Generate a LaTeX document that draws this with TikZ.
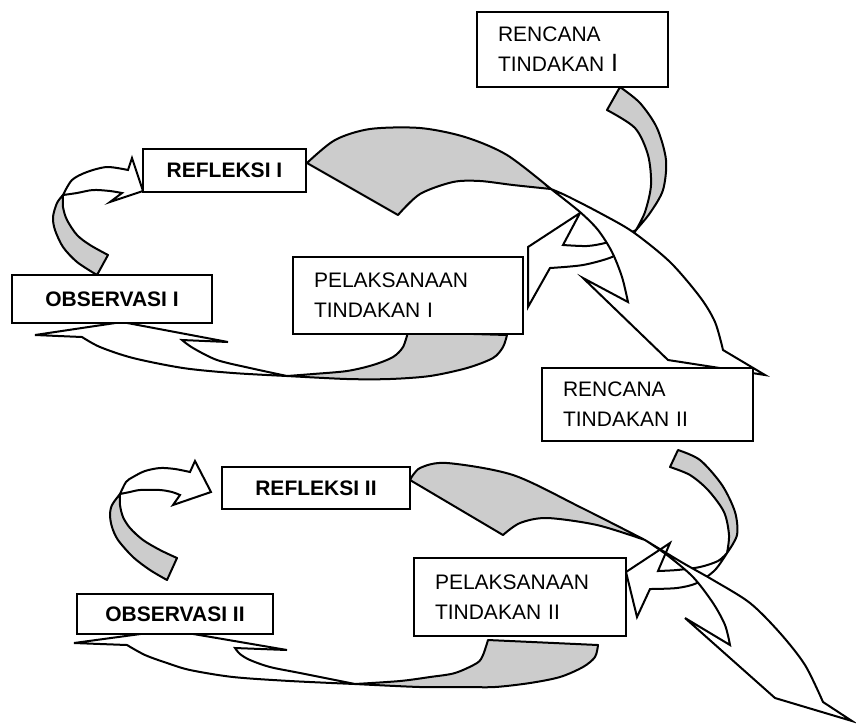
\documentclass[tikz,border=0pt]{standalone}
\usepackage{fontspec}
\setmainfont{Liberation Sans}
\usepackage{tikz}

\begin{document}
\begin{tikzpicture}[
  x=0.5pt,y=-0.5pt,
  plan/.style={draw=black, line width=1pt, fill=white, align=left, inner xsep=10.5pt, inner ysep=0pt, font=\fontsize{10.5}{15}\selectfont},
  stage/.style={draw=black, line width=1pt, fill=white, inner sep=0pt, font=\bfseries\fontsize{10.5}{13}\selectfont},
  back/.style={draw=black, line width=1pt, fill=black!20, line join=round},
  front/.style={draw=black, line width=1pt, fill=white, line join=miter}
]
  \useasboundingbox (0,0) rectangle (856,725);

  % cycle I
  \filldraw[back] (620,87) -- plot[smooth] coordinates {(620,87) (640,103) (657,128) (666,160) (663,190) (650,213) (636,230)}
    -- plot[smooth] coordinates {(636,230) (645,212) (651,185) (648,155) (635,128) (607,110)} -- cycle;
  \filldraw[front] (636,230) -- plot[smooth] coordinates {(636,230) (625,247) (612,257) (583,265) (550,268)}
    -- (528,307) -- (528,247) -- (580,213) -- (563,245)
    -- plot[smooth] coordinates {(563,245) (587,246) (605,243) (622,237) (636,230)} -- cycle;

  \filldraw[back] (307,163) -- plot[smooth] coordinates {(307,163) (335,140) (370,129) (420,128) (465,137) (507,155) (551,189)}
    -- plot[smooth] coordinates {(551,189) (513,185) (480,181) (453,182) (420,194) (398,215)} -- cycle;
  \filldraw[front] (551,189) -- plot[smooth] coordinates {(551,189) (580,212) (598,230) (612,252) (622,277) (628,302)}
    -- (583,278) -- (668,360) -- (765,375) -- (723,350)
    -- plot[smooth] coordinates {(723,350) (715,322) (700,297) (670,262) (633,232) (600,213) (567,196) (551,189)} -- cycle;

  \filldraw[back] (408,332) -- plot[smooth] coordinates {(408,332) (403,347) (393,357) (373,365) (347,371) (313,374) (287,376)}
    -- plot[smooth] coordinates {(287,376) (347,379) (390,379) (430,376) (467,368) (493,358) (503,347) (507,335)} -- cycle;
  \filldraw[front] (287,376) -- plot[smooth] coordinates {(287,376) (233,373) (183,368) (133,358) (100,347) (82,337)}
    -- (35,335) -- (122,322) -- (228,342) -- (182,340)
    -- plot[smooth] coordinates {(182,340) (193,348) (217,360) (250,368) (287,376)} -- cycle;

  \filldraw[back] (97,275) -- plot[smooth] coordinates {(97,275) (77,262) (63,247) (55,230) (53,217) (57,203) (63,195)}
    -- plot[smooth] coordinates {(63,195) (63,207) (67,220) (77,235) (90,245) (108,255)} -- cycle;
  \filldraw[front] (63,195) -- plot[smooth] coordinates {(63,195) (72,180) (87,172) (107,167) (128,170)}
    -- (132,158) -- (143,191) -- (110,202) -- (122,193)
    -- plot[smooth] coordinates {(122,193) (110,191) (93,190) (77,193) (63,195)} -- cycle;

  % cycle II
  \filldraw[back] (678,450) -- plot[smooth] coordinates {(678,450) (700,460) (722,485) (735,512) (737,535) (727,553)}
    -- plot[smooth] coordinates {(727,553) (729,535) (724,512) (708,490) (690,475) (670,467)} -- cycle;
  \filldraw[front] (727,553) -- plot[smooth] coordinates {(727,553) (715,570) (697,583) (677,588) (650,589)}
    -- (637,617) -- (626,572) -- (670,543) -- (658,571)
    -- plot[smooth] coordinates {(658,571) (677,570) (700,567) (718,561) (727,553)} -- cycle;

  \filldraw[back] (410,480) -- plot[smooth] coordinates {(410,480) (420,468) (447,463) (513,475) (580,507) (645,540)}
    -- plot[smooth] coordinates {(645,540) (597,525) (547,518) (520,523) (503,535)} -- cycle;
  \filldraw[front] (645,540) -- plot[smooth] coordinates {(645,540) (667,555) (693,577) (713,603) (725,625) (730,645)}
    -- (685,618) -- (775,698) -- (852,721) -- (823,702)
    -- plot[smooth] coordinates {(823,702) (805,665) (780,633) (750,603) (713,580) (683,563) (645,540)} -- cycle;

  \filldraw[back] (488,640) -- plot[smooth] coordinates {(488,640) (483,655) (477,663) (455,673) (430,677) (400,681) (355,684)}
    -- plot[smooth] coordinates {(355,684) (420,687) (463,687) (495,687) (530,683) (560,677) (583,667) (595,657) (598,645)} -- cycle;
  \filldraw[front] (355,684) -- plot[smooth] coordinates {(355,684) (290,681) (233,677) (190,670) (167,663) (145,655) (127,645)}
    -- (74,643) -- (170,630) -- (287,650) -- (235,648)
    -- plot[smooth] coordinates {(235,648) (240,654) (250,660) (270,667) (300,673) (355,684)} -- cycle;

  \filldraw[back] (167,580) -- plot[smooth] coordinates {(167,580) (150,570) (133,557) (118,540) (112,527) (110,515) (112,505) (120,494)}
    -- plot[smooth] coordinates {(120,494) (120,505) (123,517) (130,528) (143,540) (160,550) (177,558)} -- cycle;
  \filldraw[front] (120,494) -- plot[smooth] coordinates {(120,494) (126,482) (133,477) (145,471) (160,468) (175,469) (190,472)}
    -- (195,461) -- (211,492) -- (173,505) -- (180,495)
    -- plot[smooth] coordinates {(180,495) (172,492) (160,490) (140,490) (130,492) (120,494)} -- cycle;

  \node[plan, text width=74.5pt, minimum height=37.5pt] (rencana1) at (572.5,49.5) {RENCANA\\TINDAKAN {\fontsize{12.5}{15}\selectfont I}};
  \node[stage, minimum width=81.5pt, minimum height=21.5pt] (refleksi1) at (224.5,170.5) {REFLEKSI I};
  \node[stage, minimum width=100pt, minimum height=24pt] (observasi1) at (112,299) {OBSERVASI I};
  \node[plan, text width=94pt, minimum height=38.5pt] (pelaksanaan1) at (408,295.5) {PELAKSANAAN\\TINDAKAN I};

  \node[plan, text width=84.5pt, minimum height=36.5pt] (rencana2) at (647.5,404.5) {RENCANA\\TINDAKAN II};
  \node[stage, minimum width=94pt, minimum height=21pt] (refleksi2) at (316,488) {REFLEKSI II};
  \node[stage, minimum width=98pt, minimum height=20pt] (observasi2) at (175,614) {OBSERVASI II};
  \node[plan, text width=85pt, minimum height=39pt] (pelaksanaan2) at (520,597) {PELAKSANAAN\\TINDAKAN II};
\end{tikzpicture}
\end{document}
